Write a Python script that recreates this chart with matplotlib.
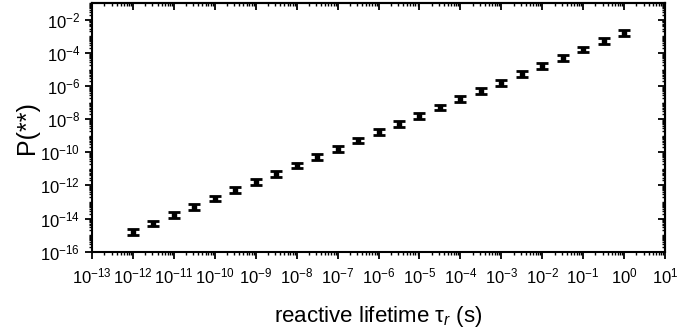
import numpy as np
import matplotlib
matplotlib.use("Agg")
import matplotlib.pyplot as plt
from matplotlib.ticker import LogLocator, NullFormatter, FuncFormatter

plt.rcParams['font.family'] = ['Liberation Sans', 'DejaVu Sans']
plt.rcParams['mathtext.fontset'] = 'custom'
plt.rcParams['mathtext.rm'] = 'Liberation Sans'
plt.rcParams['mathtext.it'] = 'Liberation Sans:italic'

# reactive lifetime (s) and P(**)
tau = [1e-12, 3.16e-12, 1e-11, 3.16e-11, 1e-10, 3.16e-10, 1e-9, 3.16e-9,
       1e-8, 3.16e-8, 1e-7, 3.16e-7, 1e-6, 3.16e-6, 1e-5, 3.16e-5,
       1e-4, 3.16e-4, 1e-3, 3.16e-3, 1e-2, 3.16e-2, 1e-1, 3.16e-1, 1e0]
p = [1.6e-15, 5.0e-15, 1.6e-14, 5.0e-14, 1.6e-13, 5.1e-13, 1.6e-12, 5.0e-12,
     1.6e-11, 5.0e-11, 1.6e-10, 5.1e-10, 1.6e-9, 5.0e-9, 1.6e-8, 5.1e-8,
     1.6e-7, 5.0e-7, 1.6e-6, 5.1e-6, 1.6e-5, 5.0e-5, 1.6e-4, 5.1e-4, 1.6e-3]
err_lo = [0.33 * v for v in p]
err_hi = [0.50 * v for v in p]

fig = plt.figure(figsize=(6.99, 3.32), dpi=100)
ax = fig.add_axes([0.1316, 0.242, 0.8198, 0.748])

ax.errorbar(tau, p, yerr=[err_lo, err_hi], fmt='s', color='black', ms=3,
            elinewidth=1.5, capsize=4, capthick=2)

ax.set_xscale('log')
ax.set_yscale('log')
ax.set_xlim(1e-13, 1e1)
ax.set_ylim(1e-16, 1e-1)

def fmt(v, pos):
    e = int(round(np.log10(v)))
    return r'$\mathregular{10^{%d}}$' % e

ax.xaxis.set_major_locator(LogLocator(base=10, numticks=30))
ax.xaxis.set_minor_locator(LogLocator(base=10, subs=np.arange(2, 10), numticks=30))
ax.xaxis.set_major_formatter(FuncFormatter(fmt))
ax.xaxis.set_minor_formatter(NullFormatter())
ax.yaxis.set_major_locator(LogLocator(base=100, numticks=30))
ax.yaxis.set_minor_locator(LogLocator(base=10, subs=np.arange(1, 10), numticks=30))
ax.yaxis.set_major_formatter(FuncFormatter(fmt))
ax.yaxis.set_minor_formatter(NullFormatter())

ax.tick_params(which='major', direction='out', length=5, width=1.3, labelsize=12)
ax.tick_params(which='minor', direction='out', length=2.5, width=1.0)
ax.tick_params(axis='x', which='major', pad=6)
for s in ax.spines.values():
    s.set_linewidth(1.5)

# inward ticks on top and right, no labels
top = ax.secondary_xaxis('top')
top.xaxis.set_major_locator(LogLocator(base=10, numticks=30))
top.xaxis.set_minor_locator(LogLocator(base=10, subs=np.arange(2, 10), numticks=30))
top.xaxis.set_major_formatter(NullFormatter())
top.xaxis.set_minor_formatter(NullFormatter())
top.tick_params(which='major', direction='in', length=5, width=1.3)
top.tick_params(which='minor', direction='in', length=2.5, width=1.0)
top.spines['top'].set_linewidth(1.5)
right = ax.secondary_yaxis('right')
right.yaxis.set_major_locator(LogLocator(base=100, numticks=30))
right.yaxis.set_minor_locator(LogLocator(base=10, subs=np.arange(1, 10), numticks=30))
right.yaxis.set_major_formatter(NullFormatter())
right.yaxis.set_minor_formatter(NullFormatter())
right.tick_params(which='major', direction='in', length=5, width=1.3)
right.tick_params(which='minor', direction='in', length=2.5, width=1.0)
right.spines['right'].set_linewidth(1.5)

ax.set_xlabel(r'reactive lifetime τ$_{\mathit{r}}$ (s)', fontsize=16, labelpad=12)
ax.set_ylabel('P(**)', fontsize=18, labelpad=1)

fig.savefig('out.png', dpi=100)
